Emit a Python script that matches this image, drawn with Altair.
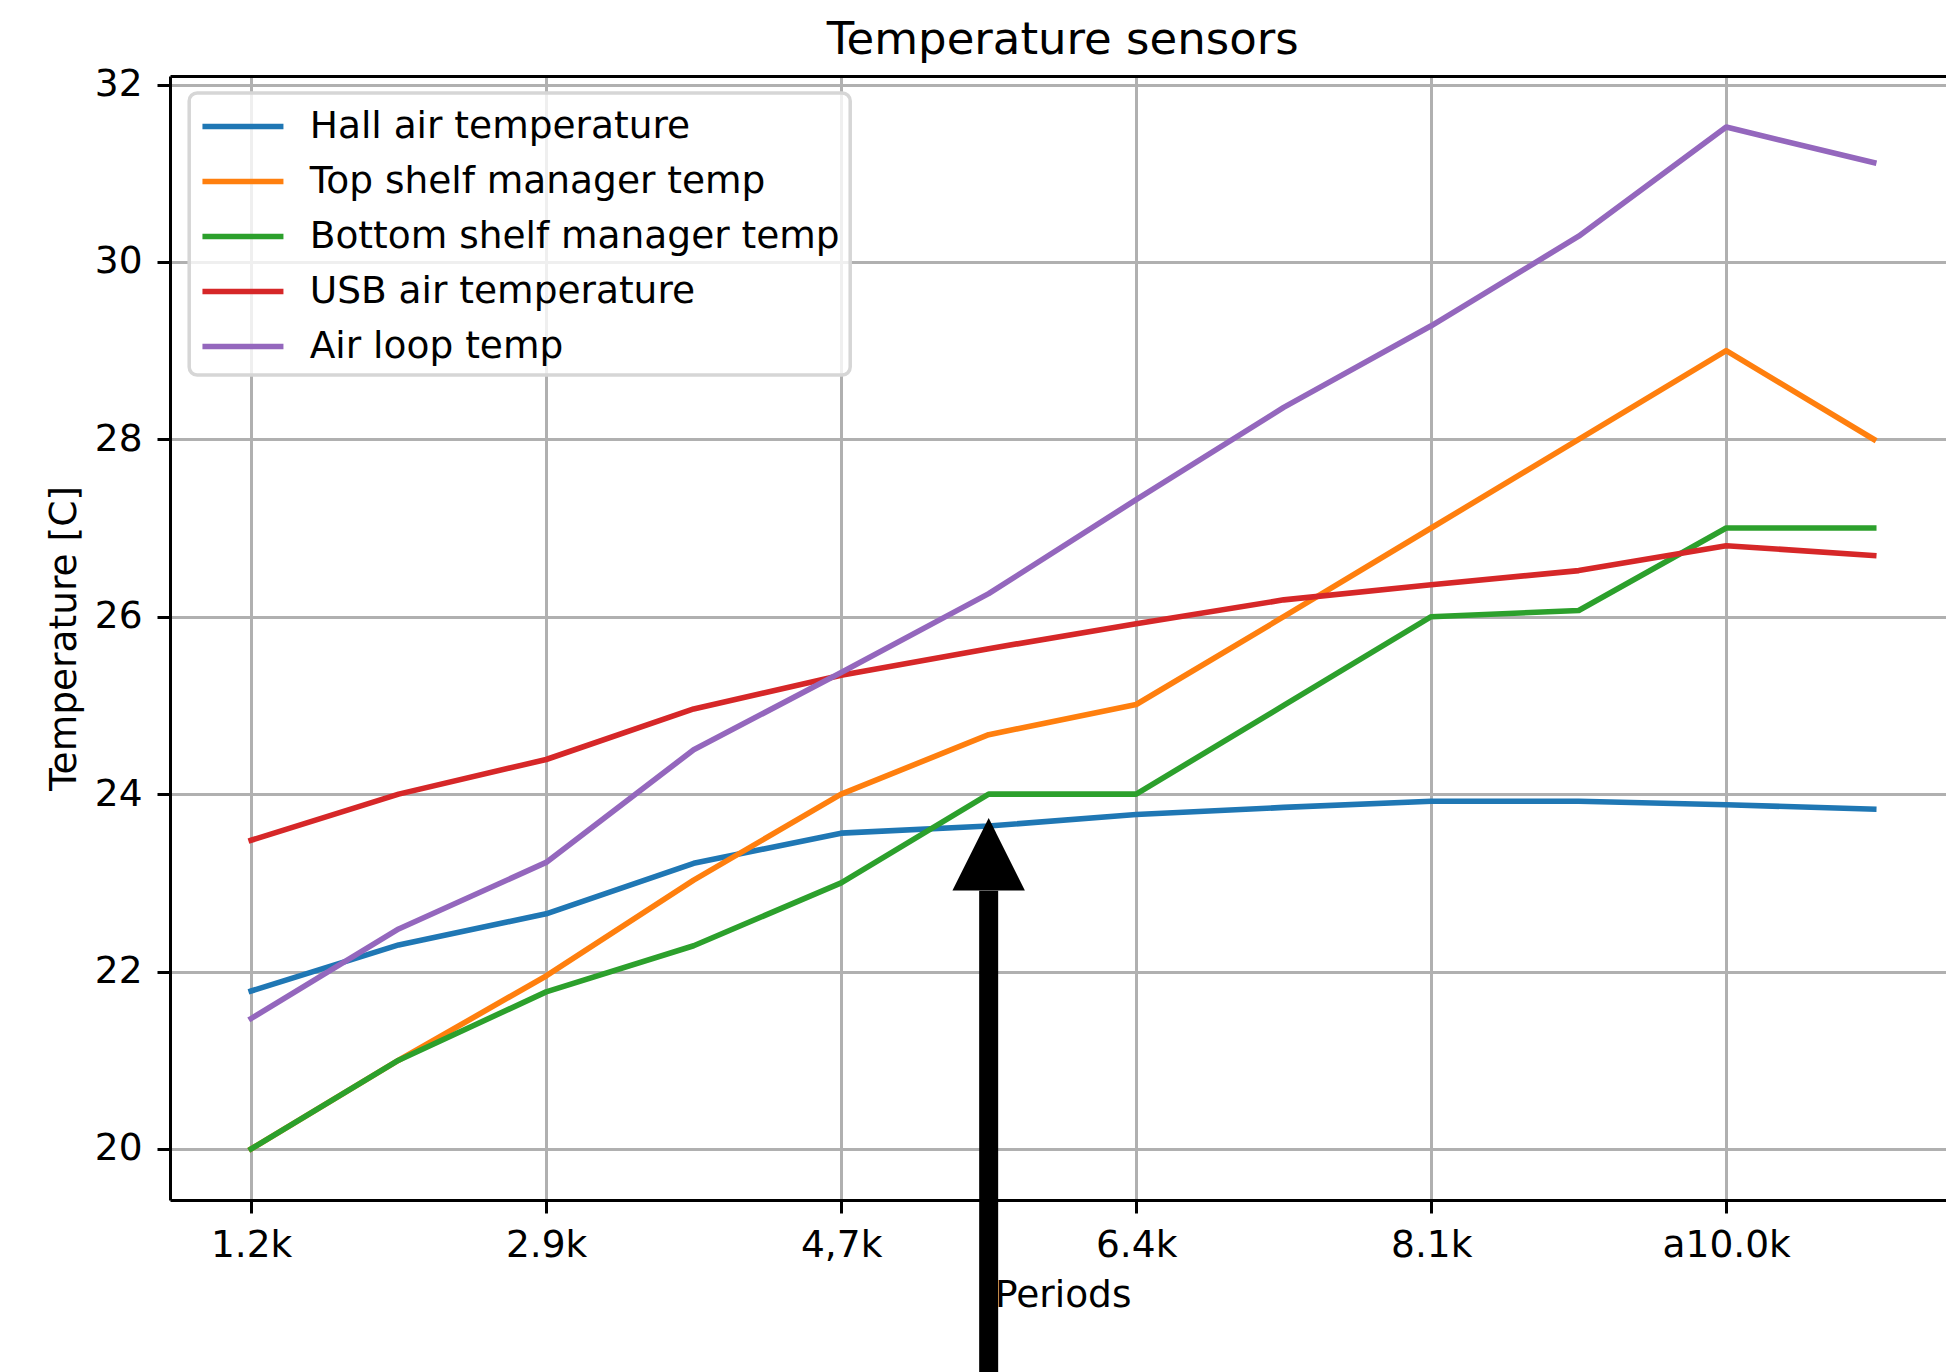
import altair as alt
import pandas as pd

# x positions (sample index) and the labelled ticks
periods = list(range(12))
tick_positions = [0, 2, 4, 6, 8, 10]
tick_labels = ["1.2k", "2.9k", "4,7k", "6.4k", "8.1k", "a10.0k"]
y_ticks = [20, 22, 24, 26, 28, 30, 32]

series_names = [
    "Hall air temperature",
    "Top shelf manager temp",
    "Bottom shelf manager temp",
    "USB air temperature",
    "Air loop temp",
]
series_colors = ["#1f77b4", "#ff7f0e", "#2ca02c", "#d62728", "#9467bd"]

hall_air = [21.78, 22.30, 22.65, 23.22, 23.56, 23.64, 23.77, 23.85, 23.92, 23.92, 23.88, 23.83]
top_shelf = [20.00, 21.00, 21.95, 23.03, 24.00, 24.67, 25.01, 26.00, 27.00, 28.00, 29.00, 28.00]
bottom_shelf = [20.00, 21.00, 21.77, 22.29, 23.00, 24.00, 24.00, 25.00, 26.00, 26.07, 27.00, 27.00]
usb_air = [23.48, 24.00, 24.39, 24.96, 25.34, 25.64, 25.92, 26.19, 26.36, 26.52, 26.80, 26.69]
air_loop = [21.47, 22.48, 23.23, 24.50, 25.37, 26.26, 27.32, 28.36, 29.28, 30.29, 31.52, 31.12]

# annotation arrow pointing at period index 5
arrow_x = [5]
arrow_tip = [23.73]
arrow_head_base = [22.91]
arrow_tail = [17.0]

series_values = [hall_air, top_shelf, bottom_shelf, usb_air, air_loop]
rows = []
for name, values in zip(series_names, series_values):
    for p, v in zip(periods, values):
        rows.append({"period": p, "temp": v, "sensor": name})
df = pd.DataFrame(rows)

arrow_df = pd.DataFrame({
    "x": arrow_x,
    "tip": arrow_tip,
    "base": arrow_head_base,
    "tail": arrow_tail,
})

FONT = "DejaVu Sans"
FS = 37.5

x_scale = alt.Scale(domain=[-0.55, 11.49], nice=False, zero=False)
y_scale = alt.Scale(domain=[19.424, 32.096], nice=False, zero=False)

label_expr = "[" + ",".join("'%s'" % t for t in tick_labels) + "][datum.value / 2]"

x_axis = alt.Axis(
    values=tick_positions,
    labelExpr=label_expr,
    title="Periods",
    titleX=892.7,
    titleY=106,
    titleBaseline="alphabetic",
    titleAngle=0,
    labelPadding=13,
    labelFlush=False,
    labelOverlap=False,
)

y_axis = alt.Axis(
    values=y_ticks,
    format="d",
    title="Temperature [C]",
    titleX=-95,
    titleY=562,
    titleBaseline="alphabetic",
    labelPadding=15,
)

# frame line along the top edge of the plot
top_axis = alt.Axis(
    orient="top",
    labels=False,
    ticks=False,
    grid=False,
    domain=True,
    title=None,
)

# legend handle: a horizontal stroke starting at the left of the symbol box
# and running four half-widths to the right
legend_handle = "M-1,0L3,0"

lines = alt.Chart(df).mark_line(
    strokeWidth=5.6, strokeCap="square", strokeJoin="round"
).encode(
    x=alt.X("period:Q", scale=x_scale, axis=x_axis),
    y=alt.Y("temp:Q", scale=y_scale, axis=y_axis),
    color=alt.Color(
        "sensor:N",
        scale=alt.Scale(domain=series_names, range=series_colors),
        legend=alt.Legend(
            title=None,
            orient="none",
            legendX=19.2,
            legendY=17,
            symbolType=legend_handle,
            symbolSize=1640,
            symbolStrokeWidth=5.6,
            symbolFillColor="transparent",
            labelFont=FONT,
            labelFontSize=FS,
            labelColor="black",
            labelOffset=63.5,
            rowPadding=13,
            padding=10,
            fillColor="rgba(255,255,255,0.8)",
            strokeColor="#d6d6d6",
            cornerRadius=8,
            labelLimit=2000,
        ),
    ),
)

shaft = alt.Chart(arrow_df).mark_rule(color="black", strokeWidth=19).encode(
    x=alt.X("x:Q", scale=x_scale, axis=top_axis),
    y=alt.Y("tail:Q", scale=y_scale, axis=y_axis),
    y2="base:Q",
)

head = alt.Chart(arrow_df).mark_point(
    shape="M0,0L-1,2L1,2Z",
    size=5242,
    filled=True,
    color="black",
    opacity=1,
    strokeWidth=0,
).encode(
    x=alt.X("x:Q", scale=x_scale, axis=None),
    y=alt.Y("tip:Q", scale=y_scale, axis=y_axis),
)

chart = (
    alt.layer(lines, shaft, head)
    .resolve_axis(x="independent")
    .properties(
        width=1776,
        height=1124,
        title=alt.TitleParams(
            "Temperature sensors",
            font=FONT,
            fontSize=45,
            fontWeight="normal",
            color="black",
            anchor="middle",
            frame="group",
            baseline="alphabetic",
            offset=22.7,
            dx=4.7,
            dy=56,
        ),
        autosize=alt.AutoSizeParams(type="none"),
        padding={"left": 170, "top": 76, "right": 0, "bottom": 172},
        background="white",
    )
    .configure(font=FONT)
    .configure_view(stroke=None)
    .configure_axis(
        labelFont=FONT,
        labelFontSize=FS,
        labelColor="black",
        titleFont=FONT,
        titleFontSize=FS,
        titleFontWeight="normal",
        titleColor="black",
        domainColor="black",
        domainWidth=3,
        tickColor="black",
        tickWidth=3,
        tickSize=13,
        gridColor="#b0b0b0",
        gridWidth=3,
        gridOpacity=1,
    )
    .configure_legend(strokeWidth=3.5)
)

chart.save("out.html", embed_options={"renderer": "svg", "actions": False})
